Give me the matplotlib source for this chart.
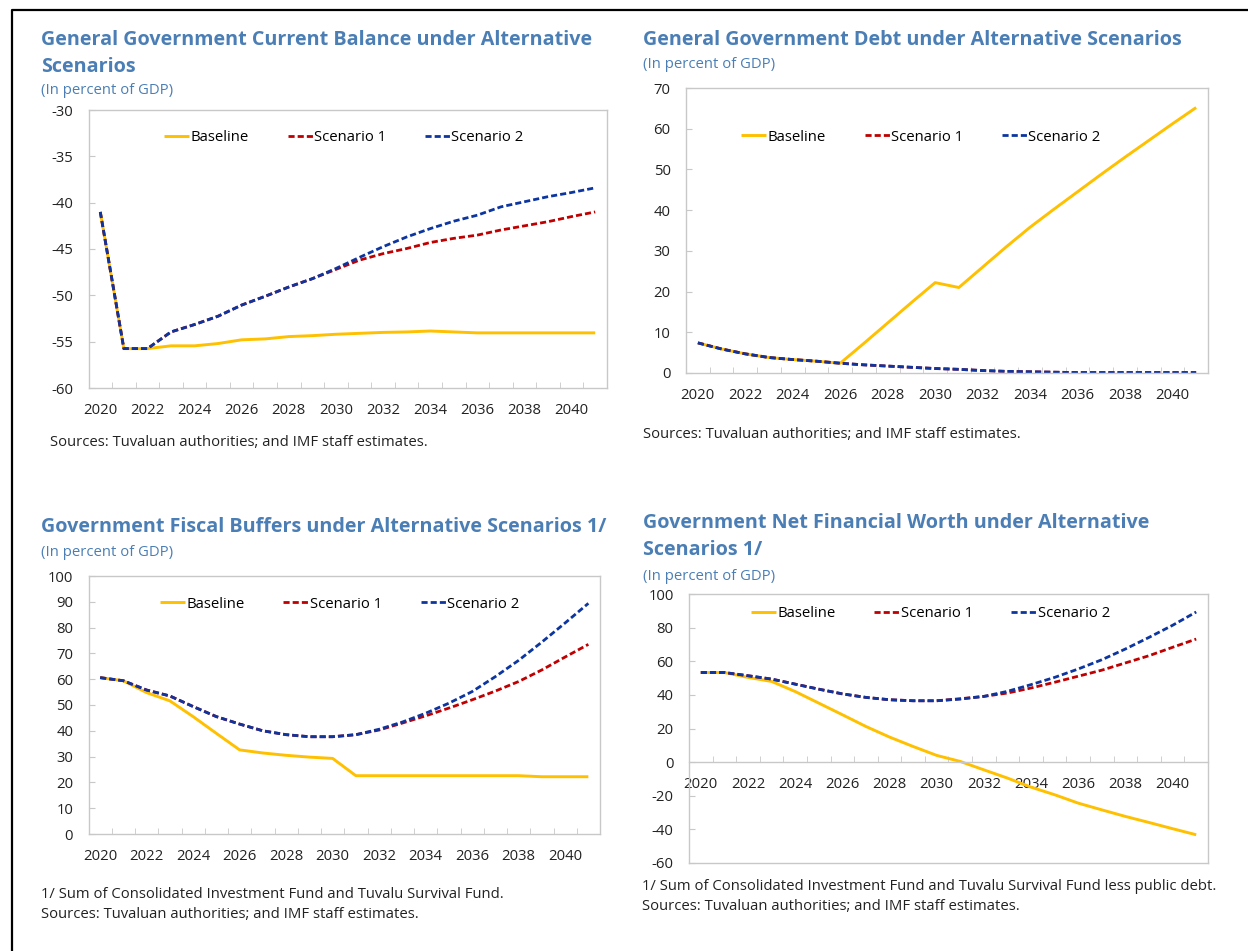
import numpy as np
import matplotlib
matplotlib.use('Agg')
from matplotlib import pyplot as plt
from matplotlib.lines import Line2D

plt.rcParams['font.family'] = ['Open Sans', 'DejaVu Sans']
plt.rcParams['axes.unicode_minus'] = False

W, H = 1248, 951

years = list(range(2020, 2042))

# Текущий баланс, % ВВП
balance_base = [-41.0, -55.75, -55.75, -55.45, -55.45, -55.2, -54.8, -54.7, -54.45, -54.35, -54.2,
                -54.1, -54.0, -53.95, -53.85, -53.95, -54.05, -54.05, -54.05, -54.05, -54.05, -54.05]
balance_s1 = [-41.0, -55.75, -55.75, -53.95, -53.15, -52.25, -51.05, -50.1, -49.1, -48.2, -47.2,
              -46.2, -45.5, -44.95, -44.3, -43.85, -43.5, -42.95, -42.5, -42.05, -41.5, -41.0]
balance_s2 = [-41.0, -55.75, -55.75, -53.95, -53.15, -52.25, -51.05, -50.1, -49.1, -48.2, -47.1,
              -45.9, -44.75, -43.7, -42.8, -42.0, -41.35, -40.45, -39.9, -39.35, -38.9, -38.4]

# Госдолг, % ВВП
debt_base = [7.4, 5.9, 4.7, 3.8, 3.3, 2.9, 2.4, 7.3, 12.3, 17.3, 22.2,
             21.0, 26.0, 31.0, 35.8, 40.2, 44.5, 48.8, 53.0, 57.1, 61.2, 65.2]
debt_s1 = [7.4, 5.9, 4.7, 3.8, 3.3, 2.9, 2.4, 2.0, 1.7, 1.4, 1.1,
           0.9, 0.6, 0.4, 0.3, 0.2, 0.1, 0.1, 0.1, 0.1, 0.1, 0.1]
debt_s2 = [7.4, 5.9, 4.7, 3.8, 3.3, 2.9, 2.4, 2.0, 1.7, 1.4, 1.1,
           0.9, 0.6, 0.4, 0.3, 0.2, 0.1, 0.1, 0.1, 0.1, 0.1, 0.1]

# Фискальные буферы, % ВВП
buffers_base = [60.6, 59.4, 54.8, 51.6, 45.5, 39.0, 32.6, 31.4, 30.5, 29.8, 29.3,
                22.6, 22.6, 22.6, 22.6, 22.6, 22.6, 22.6, 22.6, 22.2, 22.2, 22.2]
buffers_s1 = [60.6, 59.4, 55.8, 53.5, 49.4, 45.5, 42.6, 40.0, 38.5, 37.7, 37.7,
              38.5, 40.3, 43.0, 45.8, 48.8, 52.0, 55.4, 59.1, 63.6, 68.6, 73.5]
buffers_s2 = [60.6, 59.4, 55.8, 53.5, 49.4, 45.5, 42.6, 40.0, 38.5, 37.7, 37.7,
              38.5, 40.6, 43.4, 46.8, 50.7, 55.2, 61.0, 67.3, 74.4, 81.8, 89.4]

# Чистая финансовая позиция, % ВВП
worth_base = [53.3, 53.3, 50.4, 48.0, 42.0, 35.1, 28.2, 21.2, 14.9, 9.3, 4.0,
              0.4, -4.6, -9.5, -14.9, -19.4, -24.4, -28.4, -32.3, -35.9, -39.6, -43.2]
worth_s1 = [53.3, 53.3, 51.4, 49.4, 46.4, 43.4, 40.6, 38.5, 37.1, 36.5, 36.5,
            37.7, 39.1, 41.1, 44.1, 47.5, 51.1, 54.7, 59.0, 63.3, 68.3, 73.2]
worth_s2 = [53.3, 53.3, 51.4, 49.4, 46.4, 43.4, 40.6, 38.5, 37.1, 36.5, 36.5,
            37.5, 39.1, 42.1, 46.1, 50.4, 55.4, 60.9, 67.3, 74.2, 81.4, 89.3]

title_color = '#4A7EB5'
gold = '#FFC000'
red = '#C00000'
blue = '#0C35A0'
grid_gray = '#C8C8C8'
text_size = 10.7

fig = plt.figure(figsize=(W / 100, H / 100), dpi=100)


def px_box(left, top, right, bottom):
    return [left / W, 1 - bottom / H, (right - left) / W, (bottom - top) / H]


def ftext(x, y, s, **kw):
    fig.text(x / W, 1 - y / H, s, va='center', ha='left', **kw)


def draw_panel(rect, base, s1, s2, ylim, yticks, leg_xy, zero_axis=False):
    ax = fig.add_axes(px_box(*rect))
    ax.plot(years, base, color=gold, lw=2.1, label='Baseline', solid_capstyle='butt')
    ax.plot(years, s1, color=red, lw=2.0, dashes=(2.2, 1.1), label='Scenario 1')
    ax.plot(years, s2, color=blue, lw=2.0, dashes=(2.2, 1.1), label='Scenario 2')
    ax.set_xlim(2019.5, 2041.5)
    ax.set_ylim(*ylim)
    ax.set_yticks(yticks)
    ax.set_xticks(range(2020, 2041, 2))
    ax.set_xticks(np.arange(2020.5, 2041, 1), minor=True)
    for sp in ax.spines.values():
        sp.set_color(grid_gray)
        sp.set_linewidth(1.0)
    if zero_axis:
        ax.spines['bottom'].set_position(('data', 0))
        ax.plot([0, 1], [0, 0], transform=ax.transAxes, color=grid_gray, lw=1.0, clip_on=False)
    ax.tick_params(axis='x', which='major', length=0, pad=11, labelsize=text_size, colors='#222222')
    ax.tick_params(axis='x', which='minor', direction='in', length=4, color=grid_gray)
    ax.tick_params(axis='y', direction='in', length=4, color=grid_gray, pad=11,
                   labelsize=text_size, labelcolor='#222222')
    ax.legend(loc='center left', bbox_to_anchor=leg_xy, ncol=3, frameon=False,
              fontsize=text_size, handlelength=1.68, handletextpad=0.1,
              columnspacing=2.6, borderpad=0, borderaxespad=0)
    return ax


draw_panel((88.5, 110, 607, 388), balance_base, balance_s1, balance_s2,
           (-60, -30), range(-60, -29, 5), (0.146, 0.9))
draw_panel((686, 88, 1208, 373), debt_base, debt_s1, debt_s2,
           (0, 70), range(0, 71, 10), (0.106, 0.828))
draw_panel((88.5, 576, 600, 834), buffers_base, buffers_s1, buffers_s2,
           (0, 100), range(0, 101, 10), (0.14, 0.891))
draw_panel((689, 594, 1208, 863), worth_base, worth_s1, worth_s2,
           (-60, 100), range(-60, 101, 20), (0.119, 0.926), zero_axis=True)

title_kw = dict(color=title_color, fontsize=14.2, fontweight='bold')
sub_kw = dict(color=title_color, fontsize=text_size)
note_kw = dict(color='#222222', fontsize=text_size)
sources = 'Sources: Tuvaluan authorities; and IMF staff estimates.'

ftext(41, 40, 'General Government Current Balance under Alternative', **title_kw)
ftext(41, 67, 'Scenarios', **title_kw)
ftext(41, 91, '(In percent of GDP)', **sub_kw)
ftext(50, 442, sources, **note_kw)

ftext(643, 40, 'General Government Debt under Alternative Scenarios', **title_kw)
ftext(643, 64, '(In percent of GDP)', **sub_kw)
ftext(643, 434, sources, **note_kw)

ftext(41, 527, 'Government Fiscal Buffers under Alternative Scenarios 1/', **title_kw)
ftext(41, 552, '(In percent of GDP)', **sub_kw)
ftext(41, 894, '1/ Sum of Consolidated Investment Fund and Tuvalu Survival Fund.', **note_kw)
ftext(41, 915, sources, **note_kw)

ftext(643, 523, 'Government Net Financial Worth under Alternative', **title_kw)
ftext(643, 550, 'Scenarios 1/', **title_kw)
ftext(643, 576, '(In percent of GDP)', **sub_kw)
ftext(642, 886, '1/ Sum of Consolidated Investment Fund and Tuvalu Survival Fund less public debt.', **note_kw)
ftext(642, 907, sources, **note_kw)

# рамка страницы
fig.add_artist(Line2D([12 / W, 12 / W, 1.0], [0.0, 1 - 10 / H, 1 - 10 / H],
                      transform=fig.transFigure, color='black', lw=1.6))

fig.savefig('out.png', dpi=100)
